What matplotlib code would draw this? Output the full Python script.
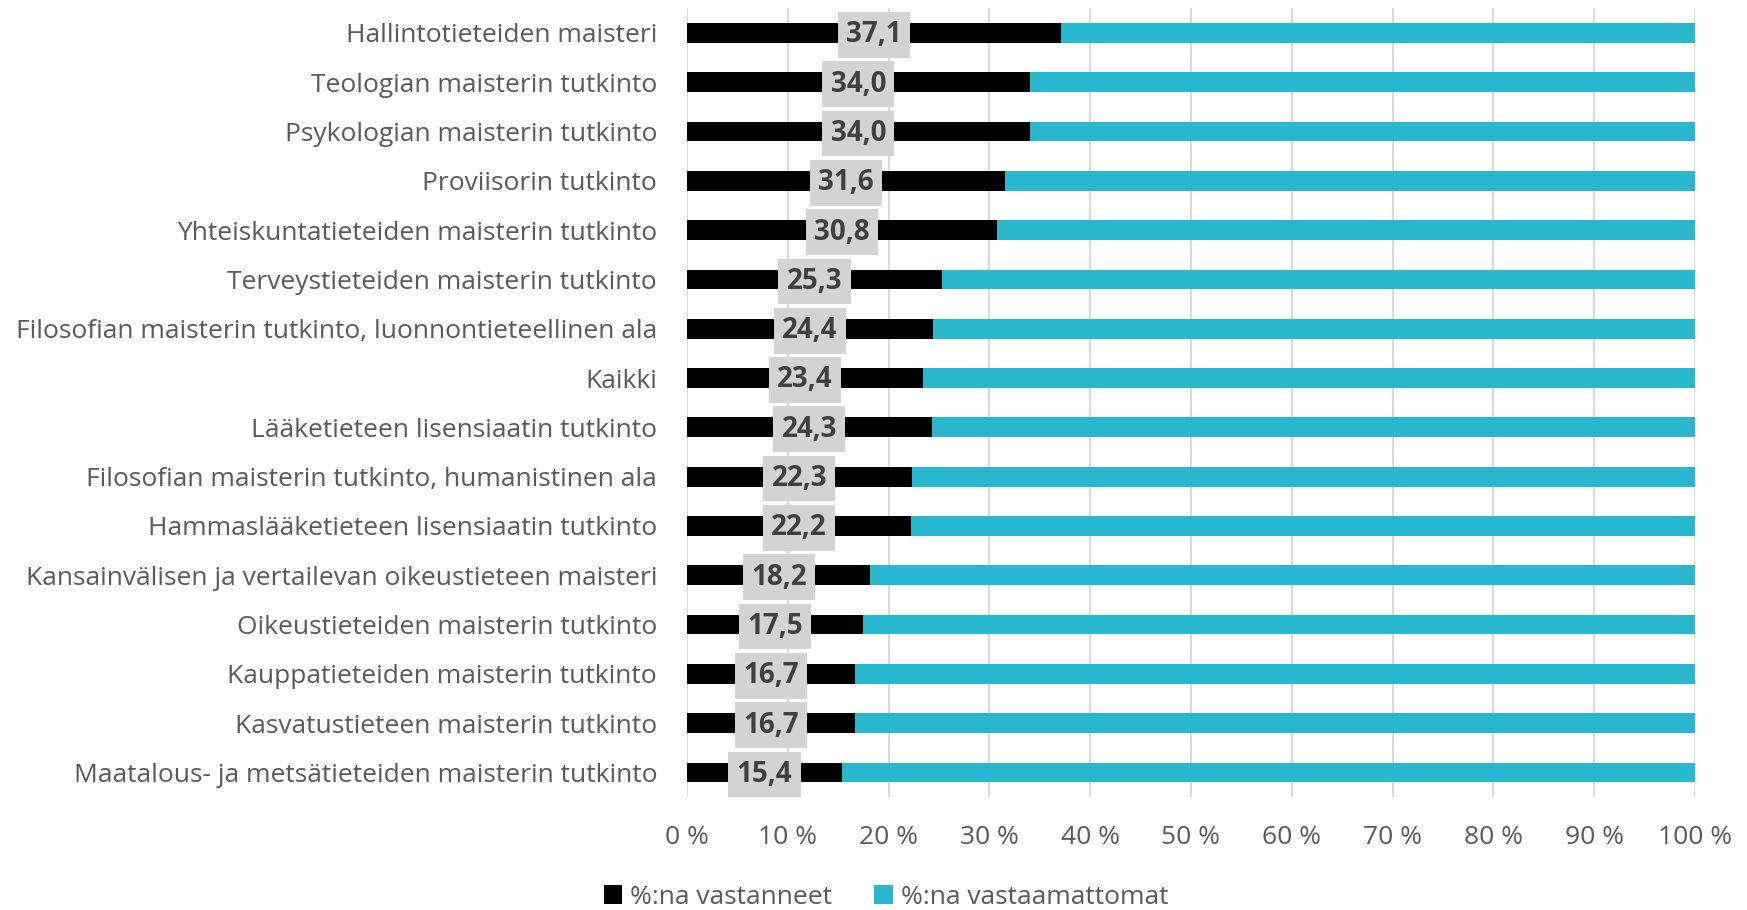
import matplotlib
matplotlib.use("Agg")
import matplotlib.pyplot as plt
from matplotlib.patches import Patch
from matplotlib.ticker import FuncFormatter

categories = [
    "Hallintotieteiden maisteri",
    "Teologian maisterin tutkinto",
    "Psykologian maisterin tutkinto",
    "Proviisorin tutkinto",
    "Yhteiskuntatieteiden maisterin tutkinto",
    "Terveystieteiden maisterin tutkinto",
    "Filosofian maisterin tutkinto, luonnontieteellinen ala",
    "Kaikki",
    "Lääketieteen lisensiaatin tutkinto",
    "Filosofian maisterin tutkinto, humanistinen ala",
    "Hammaslääketieteen lisensiaatin tutkinto",
    "Kansainvälisen ja vertailevan oikeustieteen maisteri",
    "Oikeustieteiden maisterin tutkinto",
    "Kauppatieteiden maisterin tutkinto",
    "Kasvatustieteen maisterin tutkinto",
    "Maatalous- ja metsätieteiden maisterin tutkinto",
]
responded = [37.1, 34.0, 34.0, 31.6, 30.8, 25.3, 24.4, 23.4, 24.3, 22.3, 22.2, 18.2, 17.5, 16.7, 16.7, 15.4]
not_responded = [100 - v for v in responded]
series_names = ["%:na vastanneet", "%:na vastaamattomat"]
xticks = [0, 10, 20, 30, 40, 50, 60, 70, 80, 90, 100]

plt.rcParams['font.family'] = ['Open Sans', 'DejaVu Sans']

BLACK = "#000000"
CYAN = "#29B7CE"
GREY = "#595959"

fig = plt.figure(figsize=(17.47, 9.10), dpi=100)
ax = fig.add_axes([0.3932, 0.124, 0.9702 - 0.3932, 0.991 - 0.124])

y = list(range(len(categories)))
ax.barh(y, responded, height=0.4, color=BLACK, zorder=3)
ax.barh(y, not_responded, left=responded, height=0.4, color=CYAN, zorder=3)

for yi, v in zip(y, responded):
    ax.text(v / 2, yi + 0.04, f"{v:.1f}".replace(".", ","), ha="center", va="center",
            fontsize=20, fontweight="bold", color="#404040", zorder=5,
            bbox=dict(boxstyle="square,pad=0.3", fc="#D3D3D3", ec="none"))

ax.set_xlim(0, 100)
ax.set_ylim(len(categories) - 0.5, -0.5)
ax.set_xticks(xticks)
ax.xaxis.set_major_formatter(FuncFormatter(lambda v, p: f"{int(v)} %"))
ax.set_yticks(y)
ax.set_yticklabels(categories)
ax.grid(axis="x", color="#D9D9D9", linewidth=1.5, zorder=0)
for s in ax.spines.values():
    s.set_visible(False)
ax.tick_params(axis="x", length=0, pad=20, labelsize=19, labelcolor=GREY)
ax.tick_params(axis="y", length=0, pad=21.5, labelsize=19, labelcolor=GREY)

handles = [Patch(facecolor=BLACK, label=series_names[0]), Patch(facecolor=CYAN, label=series_names[1])]
fig.legend(handles=handles, loc="center", bbox_to_anchor=(886 / 1747, 1 - 897 / 910), ncol=2,
           frameon=False, fontsize=19, labelcolor=GREY, handlelength=0.7, handleheight=0.7,
           handletextpad=0.3, columnspacing=1.6, borderpad=0.2)

fig.savefig("out.png", dpi=100)
